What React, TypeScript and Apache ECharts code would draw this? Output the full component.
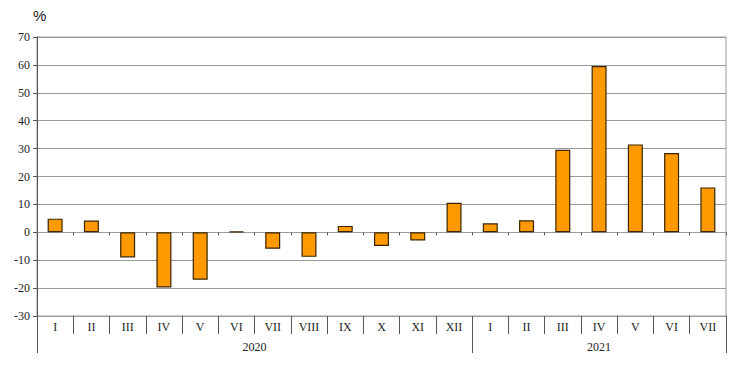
import React, { useEffect, useRef } from "react";
import * as echarts from "echarts";

const months = ["I", "II", "III", "IV", "V", "VI", "VII", "VIII", "IX", "X", "XI", "XII", "I", "II", "III", "IV", "V", "VI", "VII"];
const values = [4.9, 4.2, -9.0, -19.8, -17.0, 0.3, -5.9, -8.8, 2.3, -4.9, -2.9, 10.6, 3.2, 4.3, 29.6, 59.6, 31.5, 28.4, 16.1];
const years = ["2020", "2021"];
const yearBounds = [0, 12, 19];
const yearCenters = [6, 15.5];

export default function App() {
  const ref = useRef<HTMLDivElement>(null);
  useEffect(() => {
    document.body.style.margin = "0";
    const chart = echarts.init(ref.current!, null, { renderer: "svg" });
    const serif = "'Liberation Serif', 'Times New Roman', 'DejaVu Serif', serif";
    chart.setOption({
      animation: false,
      backgroundColor: "#ffffff",
      grid: {
        left: 37,
        right: 7,
        top: 37,
        bottom: 49,
        show: true,
        borderColor: "#9a9a9a",
        borderWidth: 1,
        outerBoundsMode: "none",
      },
      graphic: [
        {
          type: "text",
          left: 33,
          top: 8,
          style: { text: "%", font: "15px 'Liberation Sans', Arial, sans-serif", fill: "#222" },
        },
      ],
      xAxis: [
        {
          type: "category",
          data: months,
          position: "bottom",
          axisLine: { onZero: true, lineStyle: { color: "#9a9a9a", width: 1 } },
          axisTick: { show: true, interval: 0, length: 3, lineStyle: { color: "#555" } },
          axisLabel: { show: false },
          splitLine: { show: false },
        },
        {
          type: "category",
          data: months,
          position: "bottom",
          axisLine: { onZero: false, lineStyle: { color: "#9a9a9a", width: 1 } },
          axisTick: { show: true, interval: 0, length: 18, lineStyle: { color: "#555" } },
          axisLabel: { show: true, interval: 0, margin: 5, fontFamily: serif, fontSize: 12, color: "#222" },
          splitLine: { show: false },
        },
        {
          type: "value",
          min: 0,
          max: 19,
          position: "bottom",
          axisLine: { show: false, onZero: false },
          axisTick: { show: true, customValues: yearBounds, length: 37, lineStyle: { color: "#555" } },
          axisLabel: {
            show: true,
            customValues: yearCenters,
            margin: 25,
            fontFamily: serif,
            fontSize: 12,
            color: "#222",
            formatter: (v: number) => (v < 12 ? years[0] : years[1]),
          },
          splitLine: { show: false },
        },
      ],
      yAxis: {
        type: "value",
        min: -30,
        max: 70,
        interval: 10,
        axisLine: { show: true, lineStyle: { color: "#555", width: 1 } },
        axisTick: { show: true, length: 4, lineStyle: { color: "#555" } },
        axisLabel: { margin: 7, fontFamily: serif, fontSize: 12, color: "#222" },
        splitLine: { show: true, lineStyle: { color: "#9a9a9a", width: 1 } },
      },
      series: [
        {
          type: "bar",
          xAxisIndex: 0,
          data: values,
          barWidth: 15,
          itemStyle: { color: "#ff9900", borderColor: "#3a2500", borderWidth: 1.2 },
        },
      ],
    });
    return () => chart.dispose();
  }, []);
  return <div ref={ref} style={{ width: 733, height: 365 }} />;
}
